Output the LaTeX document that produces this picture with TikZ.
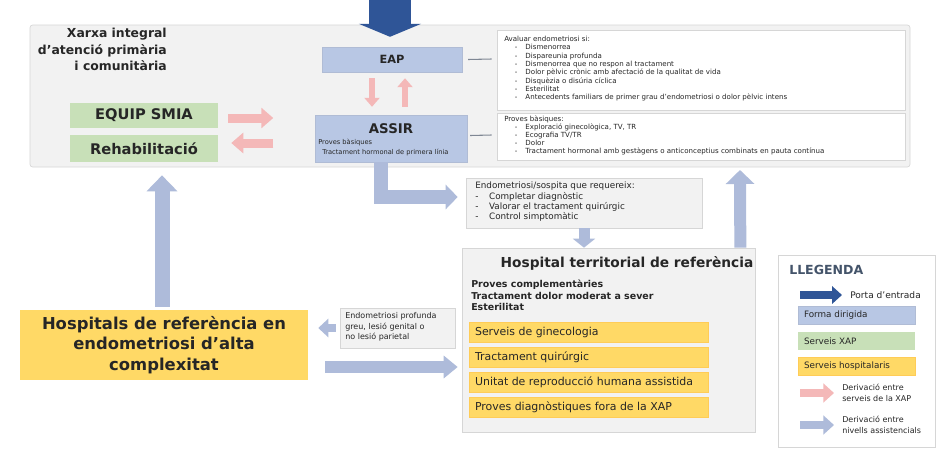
\documentclass[tikz,border=0pt]{standalone}
\usepackage{fontspec}
\setmainfont{DejaVu Sans}
\usetikzlibrary{arrows.meta,calc}
\definecolor{bgA}{HTML}{F2F2F2}
\definecolor{bordA}{HTML}{D6D6D6}
\definecolor{blueF}{HTML}{B8C7E4}
\definecolor{greenF}{HTML}{C8E0B8}
\definecolor{yellowF}{HTML}{FFD966}
\definecolor{darkB}{HTML}{2F5597}
\definecolor{lightB}{HTML}{AEBBDA}
\definecolor{pinkF}{HTML}{F4B8B8}
\definecolor{txt}{HTML}{262626}
\definecolor{legT}{HTML}{44546A}
\definecolor{dashC}{HTML}{7F8794}
\begin{document}
\begin{tikzpicture}[x=0.75pt,y=-0.75pt,
  every node/.style={text=txt, inner sep=0pt},
  sz/.style 2 args={minimum width=#1*0.75pt, minimum height=#2*0.75pt},
  graybox/.style={fill=bgA, draw=bordA, line width=0.5pt},
  listbox/.style={fill=white, draw=bordA, line width=0.5pt},
  bluebox/.style={fill=blueF, draw=blueF!85!gray, line width=0.3pt},
  greenbox/.style={fill=greenF, font=\bfseries\fontsize{11}{12}\selectfont},
  yellowbox/.style={fill=yellowF, draw=yellowF!85!orange, line width=0.3pt},
  tinytxt/.style={font=\fontsize{5.3}{6.25}\selectfont, align=left},
  subtxt/.style={anchor=west, font=\fontsize{8.2}{9}\selectfont},
  legtxt/.style={anchor=west, font=\fontsize{6.6}{7}\selectfont},
  arr/.style n args={4}{draw=#1, line width=#2pt, -{Triangle[length=#3pt, width=#4pt, fill=#1]}},
  dashline/.style={draw=dashC, line width=0.8pt}
]
\useasboundingbox[fill=white] (0,0) rectangle (938,454);

% ---------- main network box ----------
\node[graybox, rounded corners=2pt, sz={880}{142}] (xarxa) at (470,96) {};
\node[anchor=north east, align=right, font=\bfseries\fontsize{9.3}{12.4}\selectfont] (title) at (167,28)
  {Xarxa integral\\d'atenció primària\\i comunitària};

\node[bluebox, sz={140}{25}, font=\bfseries\fontsize{8.5}{10}\selectfont] (eap) at (392,59.5) {EAP};
\node[bluebox, sz={152}{47}] (assir) at (391,138.5) {};
\node[font=\bfseries\fontsize{10}{11}\selectfont] (assirt) at (391,129) {ASSIR};
\node[anchor=north west, font=\fontsize{5}{7.5}\selectfont, align=left] (assirs) at (318,139)
  {Proves bàsiques\\\hspace{3pt}Tractament hormonal de primera línia};

\node[greenbox, sz={148}{25}] (smia) at (144,115.5) {EQUIP SMIA};
\node[greenbox, sz={148}{27}] (rehab) at (144,148.5) {Rehabilitació};

% list boxes
\node[listbox, sz={408}{80}] (list1) at (701,70) {};
\node[tinytxt, anchor=north west] (list1t) at (504,36) {Avaluar endometriosi si:\\
\hspace{8pt}-\hspace{6pt}Dismenorrea\\
\hspace{8pt}-\hspace{6pt}Dispareunia profunda\\
\hspace{8pt}-\hspace{6pt}Dismenorrea que no respon al tractament\\
\hspace{8pt}-\hspace{6pt}Dolor pèlvic crònic amb afectació de la qualitat de vida\\
\hspace{8pt}-\hspace{6pt}Disquèzia o disúria cíclica\\
\hspace{8pt}-\hspace{6pt}Esterilitat\\
\hspace{8pt}-\hspace{6pt}Antecedents familiars de primer grau d'endometriosi o dolor pèlvic intens};

\node[listbox, sz={408}{47}] (list2) at (701,136.5) {};
\node[tinytxt, anchor=north west, font=\fontsize{5.3}{6}\selectfont] (list2t) at (504,116) {Proves bàsiques:\\
\hspace{8pt}-\hspace{6pt}Exploració ginecològica, TV, TR\\
\hspace{8pt}-\hspace{6pt}Ecografia TV/TR\\
\hspace{8pt}-\hspace{6pt}Dolor\\
\hspace{8pt}-\hspace{6pt}Tractament hormonal amb gestàgens o anticonceptius combinats en pauta contínua};

\draw[dashline] ($(eap.east)+(6,0)$) -- ($(list1.west)+(-5,-11)$);
\draw[dashline] ($(assir.east)+(3,-3)$) -- ($(list2.west)+(-5,-1.5)$);

% ---------- middle box ----------
\node[graybox, sz={236}{50}] (mid) at (584,203) {};
\node[anchor=north west, font=\fontsize{6.6}{7.6}\selectfont, align=left] (midt) at (475,182)
  {Endometriosi/sospita que requereix:\\
  -\hspace{8pt}Completar diagnòstic\\
  -\hspace{8pt}Valorar el tractament quirúrgic\\
  -\hspace{8pt}Control simptomàtic};

% ---------- hospital territorial ----------
\node[graybox, sz={293}{184}] (terr) at (608.5,340) {};
\node[font=\bfseries\fontsize{10.3}{11}\selectfont] (terrt) at (627,263) {Hospital territorial de referència};
\node[anchor=north west, font=\bfseries\fontsize{7.1}{8.6}\selectfont, align=left] (terrs) at (471,280)
  {Proves complementàries\\Tractament dolor moderat a sever\\Esterilitat};
\node[yellowbox, sz={239}{20}] (y1) at (588.5,332.5) {};
\node[yellowbox, sz={239}{20}] (y2) at (588.5,357.5) {};
\node[yellowbox, sz={239}{20}] (y3) at (588.5,382.5) {};
\node[yellowbox, sz={239}{20}] (y4) at (588.5,407.5) {};
\node[subtxt] (y1t) at ($(y1.west)+(6,0)$) {Serveis de ginecologia};
\node[subtxt] (y2t) at ($(y2.west)+(6,0)$) {Tractament quirúrgic};
\node[subtxt] (y3t) at ($(y3.west)+(6,0)$) {Unitat de reproducció humana assistida};
\node[subtxt] (y4t) at ($(y4.west)+(6,0)$) {Proves diagnòstiques fora de la XAP};

% ---------- hospitals alta complexitat ----------
\node[fill=yellowF, sz={288}{70}, align=center, font=\bfseries\fontsize{12.3}{15.5}\selectfont] (hosp) at (164,345)
  {Hospitals de referència en\\endometriosi d'alta\\complexitat};
\node[graybox, sz={115}{40}] (small) at (397.5,328) {};
\node[anchor=north west, font=\fontsize{6}{8}\selectfont, align=left] (smallt) at (345,312)
  {Endometriosi profunda\\greu, lesió genital o\\no lesió parietal};

% ---------- arrows ----------
\coordinate (topin) at (390,0);
\draw[arr={darkB}{31.5}{9.75}{46.5}] (topin) -- ($(eap.north)+(-2,-10)$);

\draw[arr={pinkF}{4.5}{6.75}{11.25}] ($(eap.south)+(-20,6)$) -- ($(assir.north)+(-19,-8)$);
\draw[arr={pinkF}{4.5}{6.75}{11.25}] ($(assir.north)+(14,-8)$) -- ($(eap.south)+(13,6)$);

\draw[arr={pinkF}{6.75}{9}{15}] ($(smia.east)+(10,2.5)$) -- ($(smia.east)+(55,2.5)$);
\draw[arr={pinkF}{6.75}{9}{15}] ($(rehab.east)+(55,-5.5)$) -- ($(rehab.east)+(13,-5.5)$);

\draw[arr={lightB}{10.5}{9}{18}] ($(assir.south)+(-10,0)$) |- ($(mid.west)+(-8,-6)$);
\draw[arr={lightB}{8.25}{6.75}{16.5}] (mid.south) -- (mid.south |- terr.north);
\coordinate (upA) at (740,170);
\draw[arr={lightB}{9}{10.5}{21}] ($(terr.north east)+(-15,0)$) -- (upA);
\draw[arr={lightB}{11.25}{12}{22.5}] ($(hosp.north)+(-2,-3)$) -- ($(xarxa.south -| hosp.north)+(-2,8)$);
\draw[arr={lightB}{6}{7.5}{13.5}] ($(small.west)+(-4,0)$) -- ($(hosp.east |- small.west)+(10,0)$);
\draw[arr={lightB}{9}{10.5}{16.5}] ($(hosp.east)+(17,22)$) -- ($(terr.west)+(-4,27)$);

% ---------- legend ----------
\node[listbox, sz={157}{192}] (leg) at (856.5,351) {};
\node[anchor=west, font=\bfseries\fontsize{9.4}{10}\selectfont, text=legT] (legt) at (789,270) {LLEGENDA};
\coordinate (la1) at (800,295); \coordinate (la2) at (842,295);
\draw[arr={darkB}{6}{7.5}{13}] (la1) -- (la2);
\node[legtxt, font=\fontsize{6.8}{7}\selectfont] (lat) at (850,295) {Porta d'entrada};
\node[bluebox, sz={117}{18}] (lb) at (856.5,315) {};
\node[legtxt] (lbt) at ($(lb.west)+(6,0)$) {Forma dirigida};
\node[fill=greenF, sz={117}{18}] (lg) at (856.5,341) {};
\node[legtxt] (lgt) at ($(lg.west)+(6,0)$) {Serveis XAP};
\node[yellowbox, sz={117}{18}] (ly) at (856.5,366) {};
\node[legtxt] (lyt) at ($(ly.west)+(6,0)$) {Serveis hospitalaris};
\coordinate (lp1) at (800,393); \coordinate (lp2) at (834,393);
\draw[arr={pinkF}{6}{8}{14}] (lp1) -- (lp2);
\node[anchor=west, font=\fontsize{6}{8}\selectfont, align=left] (lpt) at (842,393) {Derivació entre\\serveis de la XAP};
\coordinate (lq1) at (800,425); \coordinate (lq2) at (834,425);
\draw[arr={lightB}{6}{8}{14}] (lq1) -- (lq2);
\node[anchor=west, font=\fontsize{6}{8}\selectfont, align=left] (lqt) at (842,425) {Derivació entre\\nivells assistencials};
\end{tikzpicture}
\end{document}
